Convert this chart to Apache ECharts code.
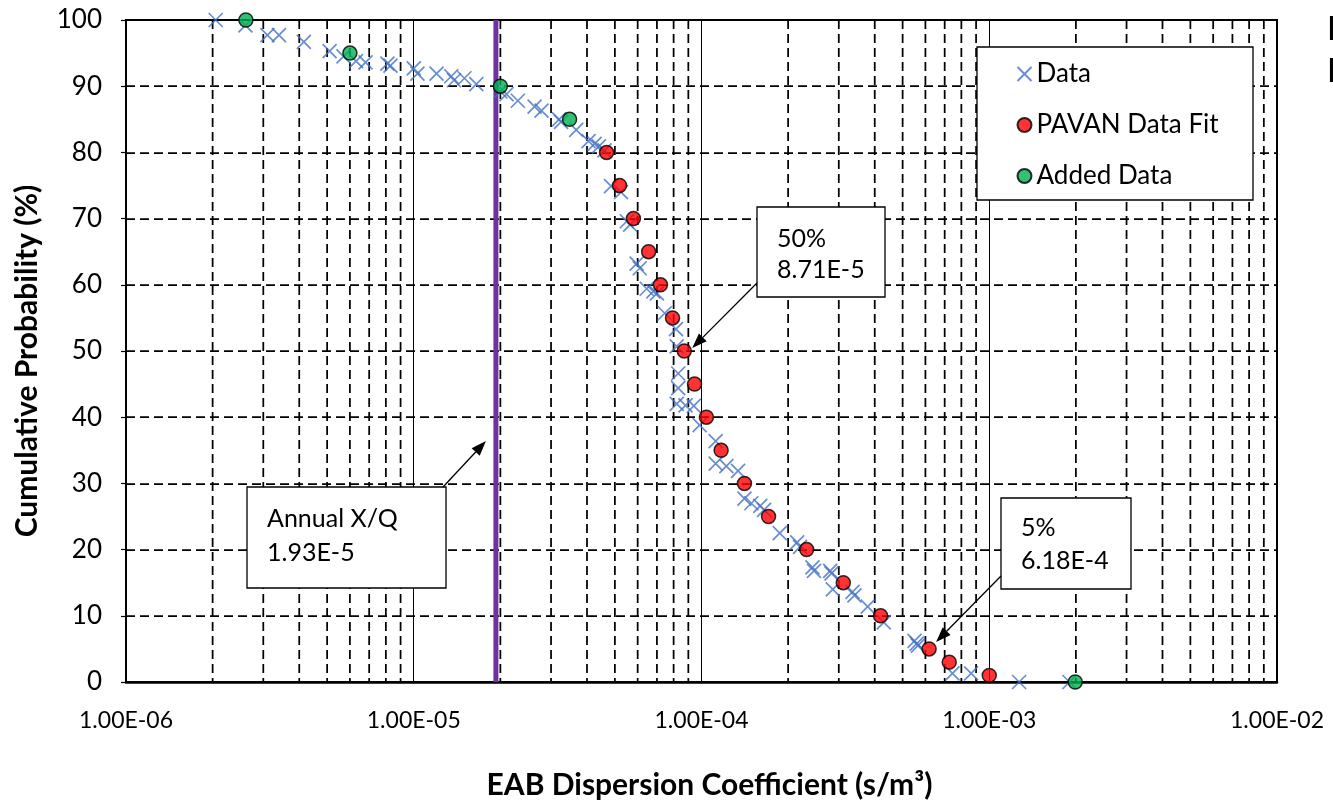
<!DOCTYPE html>
<html><head><meta charset="utf-8">
<script src="https://cdn.jsdelivr.net/npm/echarts@6/dist/echarts.min.js"></script>
<style>html,body{margin:0;padding:0;background:#fff}#c{width:1333px;height:804px}</style>
</head><body><div id="c"></div>
<script>
// ---- data ----
const dataX = [2.05e-6,2.6e-6,3.1e-6,3.4e-6,4.15e-6,5.1e-6,5.7e-6,6.3e-6,6.8e-6,8.1e-6,8.3e-6,1.0e-5,1.03e-5,1.2e-5,1.35e-5,1.38e-5,1.5e-5,1.65e-5,2.0e-5,2.1e-5,2.3e-5,2.63e-5,2.78e-5,3.2e-5,3.25e-5,3.67e-5,4.05e-5,4.25e-5,4.4e-5,4.6e-5,4.85e-5,5.25e-5,5.5e-5,5.65e-5,5.95e-5,6.1e-5,6.45e-5,6.8e-5,7.0e-5,7.45e-5,8.15e-5,8.2e-5,8.3e-5,8.3e-5,8.2e-5,8.8e-5,9.4e-5,9.85e-5,1.12e-4,1.12e-4,1.22e-4,1.34e-4,1.41e-4,1.49e-4,1.6e-4,1.65e-4,1.87e-4,2.15e-4,2.2e-4,2.43e-4,2.46e-4,2.8e-4,2.83e-4,2.86e-4,3.35e-4,3.4e-4,3.78e-4,4.3e-4,5.5e-4,5.6e-4,5.65e-4,7.45e-4,8.65e-4,1.27e-3,1.9e-3];
const dataY = [100,99.2,97.7,97.7,96.7,95.3,94.5,93.8,93.6,93.4,93.1,92.7,91.9,91.9,91.5,90.9,91.2,90.3,89.2,88.8,87.8,86.9,86.3,85.0,84.6,83.4,81.7,81.3,80.9,80.3,74.9,74.0,69.6,69.1,63.2,62.5,59.4,59.0,58.7,55.7,53.3,50.7,46.6,44.4,42.0,41.8,41.7,38.8,36.4,33.0,32.6,31.9,27.7,27.0,26.6,26.0,22.5,21.1,20.4,17.3,16.8,16.8,16.4,14.0,13.6,13.1,11.4,9.0,6.2,5.8,5.5,1.3,1.3,0,0];
const fitX = [4.68e-5,5.19e-5,5.8e-5,6.55e-5,7.2e-5,7.93e-5,8.71e-5,9.46e-5,1.04e-4,1.17e-4,1.41e-4,1.71e-4,2.32e-4,3.11e-4,4.19e-4,6.18e-4,7.26e-4,1.0e-3];
const fitY = [80,75,70,65,60,55,50,45,40,35,30,25,20,15,10,5,3,1];
const addedX = [2.61e-6,6.0e-6,2.0e-5,3.48e-5,1.99e-3];
const addedY = [100,95,90,85,0];
const annualXQ = 1.93e-5;
const xTickLabels = ['1.00E-06','1.00E-05','1.00E-04','1.00E-03','1.00E-02'];
const yTicks = [0,10,20,30,40,50,60,70,80,90,100];
const decadeExps = [-6,-5,-4,-3];
const minorMult = [2,3,4,5,6,7,8,9];
const seriesNames = ['Data','PAVAN Data Fit','Added Data'];
const annotations = [
  {text:'50%\n8.71E-5', x:8.71e-5, y:50},
  {text:'5%\n6.18E-4', x:6.18e-4, y:5},
  {text:'Annual X/Q\n1.93E-5', x:annualXQ, y:36.4}
];

// ---- build ----
const FONT = 'Lato, "Open Sans", sans-serif';
const zip = (a,b)=>a.map((v,i)=>[v,b[i]]);
const minorVals = [];
decadeExps.forEach(e=>minorMult.forEach(m=>minorVals.push(m*Math.pow(10,e))));
const crossPath = 'path://M0,0L10,10M10,0L0,10';

function vLineSeries(name, values, style, z){
  return {
    type:'custom', name:name, silent:true, z:z, clip:true,
    data: values.map(v=>[v,50]), encode:{x:0,y:1},
    renderItem:(params, api)=>{
      const v = api.value(0);
      const t = api.coord([v,100]), b = api.coord([v,0]);
      return {type:'line', shape:{x1:t[0],y1:t[1],x2:b[0],y2:b[1]}, style:Object.assign({fill:null}, style)};
    }
  };
}

const chart = echarts.init(document.getElementById('c'), null, {renderer:'canvas'});
const option = {
  animation:false,
  backgroundColor:'#fff',
  grid:{left:126,right:56,top:20,bottom:122,show:true,borderColor:'#000',borderWidth:2,backgroundColor:'transparent',outerBoundsMode:'none'},
  xAxis:{
    type:'log', logBase:10, min:1e-6, max:1e-2, splitNumber:4,
    axisLine:{show:true,lineStyle:{color:'#000',width:2.5}},
    axisTick:{show:false},
    axisLabel:{color:'#000',fontSize:23,fontFamily:FONT,margin:27,
      formatter:v=>xTickLabels[Math.round(Math.log10(v))+6]},
    splitLine:{show:true,lineStyle:{color:'#000',width:1,type:'solid'}},
    name:'EAB Dispersion Coefficient (s/m³)', nameLocation:'middle', nameGap:88,
    nameTextStyle:{color:'#000',fontSize:30,fontWeight:'bold',fontFamily:FONT,padding:[0,0,0,16]}
  },
  yAxis:{
    type:'value', min:0, max:100, interval:10,
    axisLine:{show:true,lineStyle:{color:'#000',width:1.5}},
    axisTick:{show:true,length:5,lineStyle:{color:'#000',width:1.2}},
    axisLabel:{color:'#000',fontSize:26,fontFamily:FONT,margin:24,
      formatter:v=>String(yTicks[Math.round(v/10)])},
    splitLine:{show:true,lineStyle:{color:'#000',width:1.75,type:[9,5]}},
    name:'Cumulative Probability (%)', nameLocation:'middle', nameGap:84,
    nameTextStyle:{color:'#000',fontSize:30,fontWeight:'bold',fontFamily:FONT,padding:[0,20,0,0]}
  },
  legend:{
    data:seriesNames, orient:'vertical', left:1015, top:61, itemGap:25,
    itemWidth:14, itemHeight:14, padding:0, z:60,
    textStyle:{color:'#000',fontSize:26,fontFamily:FONT},
    selectedMode:false
  },
  series:[
    vLineSeries('minorGrid', minorVals, {stroke:'#000',lineWidth:1.75,lineDash:[9,5]}, 1),
    vLineSeries('annual', [annualXQ], {stroke:'#7030A0',lineWidth:5}, 2),
    {type:'scatter', name:seriesNames[0], data:zip(dataX,dataY), symbol:crossPath, symbolSize:14, z:3,
      itemStyle:{color:'none',borderColor:'#4472C4',borderWidth:1.7}},
    {type:'scatter', name:seriesNames[1], data:zip(fitX,fitY), symbol:'circle', symbolSize:14, z:4,
      itemStyle:{color:'#FF0000',borderColor:'#000',borderWidth:1.5}},
    {type:'scatter', name:seriesNames[2], data:zip(addedX,addedY), symbol:'circle', symbolSize:14, z:4,
      itemStyle:{color:'#00B050',borderColor:'#000',borderWidth:1.5}}
  ]
};
chart.setOption(option);

// ---- annotations (boxes, arrows) ----
function arrow(x1,y1,x2,y2){
  const a=Math.atan2(y2-y1,x2-x1), L=15, W=5.5;
  const bx=x2-L*Math.cos(a), by=y2-L*Math.sin(a);
  const px=-Math.sin(a), py=Math.cos(a);
  return [
    {type:'line',z:70,shape:{x1:x1,y1:y1,x2:bx,y2:by},style:{stroke:'#000',lineWidth:1.3}},
    {type:'polygon',z:70,shape:{points:[[x2,y2],[bx+W*px,by+W*py],[bx-W*px,by-W*py]]},style:{fill:'#000'}}
  ];
}
const px = (x,y)=>chart.convertToPixel({xAxisIndex:0,yAxisIndex:0},[x,y]);
const boxes = [
  {r:[757,207,128,90], tx:777, ty:254, lh:31, from:[757,283], off:[8,-3]},
  {r:[1001,498,130,91], tx:1021, ty:544, lh:33, from:[1001,576], off:[7,-7]},
  {r:[247,487,199,101], tx:267, ty:536, lh:34, from:[443,487], off:[-10,0]}
];
const g = [];
boxes.forEach((b,i)=>{
  g.push({type:'rect',z:65,shape:{x:b.r[0],y:b.r[1],width:b.r[2],height:b.r[3]},style:{fill:'#fff',stroke:'#000',lineWidth:1.3}});
  g.push({type:'text',z:66,x:b.tx,y:b.ty,style:{text:annotations[i].text,fill:'#000',font:'25px '+FONT,lineHeight:b.lh,verticalAlign:'middle'}});
  const p = px(annotations[i].x, annotations[i].y);
  g.push(...arrow(b.from[0],b.from[1],p[0]+b.off[0],p[1]+b.off[1]));
});
// legend frame
g.push({type:'rect',z:55,shape:{x:977,y:47,width:276,height:153},style:{fill:'#fff',stroke:'#000',lineWidth:1.3}});
// clipped side text
g.push({type:'text',z:66,x:1327,y:30,style:{text:'D',fill:'#000',font:'32px '+FONT,verticalAlign:'middle'}});
g.push({type:'text',z:66,x:1327,y:72,style:{text:'P',fill:'#000',font:'32px '+FONT,verticalAlign:'middle'}});
chart.setOption({graphic:g});
</script>
</body></html>
